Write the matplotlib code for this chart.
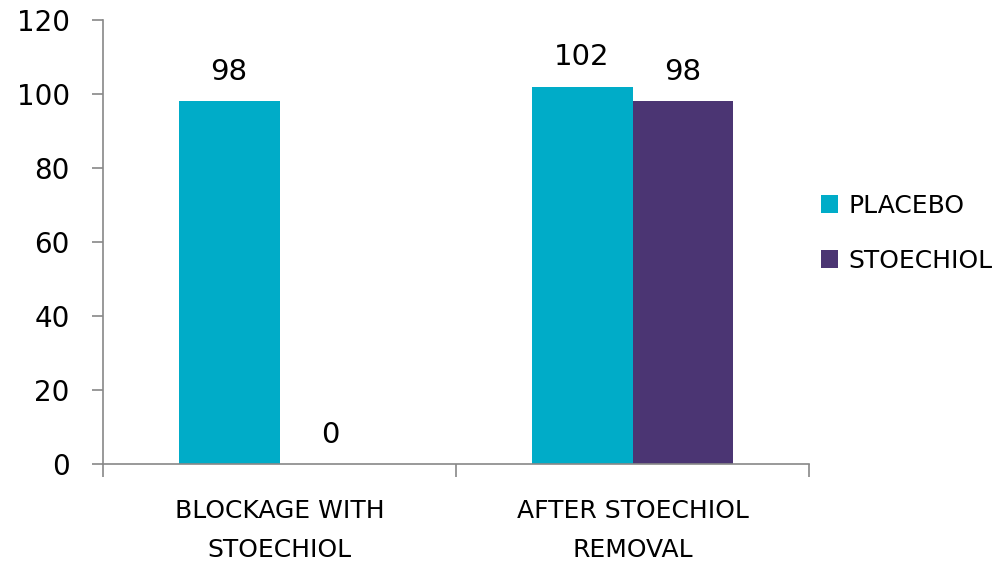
import numpy as np
import matplotlib
matplotlib.use("Agg")
import matplotlib.pyplot as plt

categories = ["BLOCKAGE WITH\nSTOECHIOL", "AFTER STOECHIOL\nREMOVAL"]
placebo = [98, 102]
stoechiol = [0, 98]
series_names = ["PLACEBO", "STOECHIOL"]
colors = ["#00ACC8", "#4B3573"]

plt.rcParams["font.family"] = ["DejaVu Sans"]

fig = plt.figure(figsize=(10.05, 5.64), dpi=100)
ax = fig.add_axes([0.1025, 0.1773, 0.7025, 0.7872])

x = np.arange(len(categories))
w = 0.286
bars1 = ax.bar(x - w / 2, placebo, w, color=colors[0], label=series_names[0])
bars2 = ax.bar(x + w / 2, stoechiol, w, color=colors[1], label=series_names[1])

for bars in (bars1, bars2):
    for b in bars:
        h = b.get_height()
        ax.annotate(f"{h:g}", (b.get_x() + b.get_width() / 2, h),
                    xytext=(0, 11), textcoords="offset points",
                    ha="center", va="bottom", fontsize=21)

ax.set_xlim(-0.5, 1.5)
ax.set_ylim(0, 120)
ax.set_yticks(range(0, 121, 20))
ax.tick_params(axis="y", labelsize=20, length=8, width=1.2,
               color="#888888", pad=16)

ax.set_xticks(x)
ax.set_xticklabels(categories, fontsize=18, linespacing=1.8)
ax.tick_params(axis="x", which="major", length=0, pad=25)
ax.set_xticks([-0.5, 0.5, 1.5], minor=True)
ax.tick_params(axis="x", which="minor", length=9, width=1.2, color="#888888")

for s in ("top", "right"):
    ax.spines[s].set_visible(False)
for s in ("left", "bottom"):
    ax.spines[s].set_color("#888888")
    ax.spines[s].set_linewidth(1.2)

ax.legend(loc="center left", bbox_to_anchor=(0.985, 0.52), frameon=False,
          fontsize=18, handlelength=0.7, handleheight=0.7,
          handletextpad=0.4, labelspacing=1.25)

fig.savefig("out.png", dpi=100)
